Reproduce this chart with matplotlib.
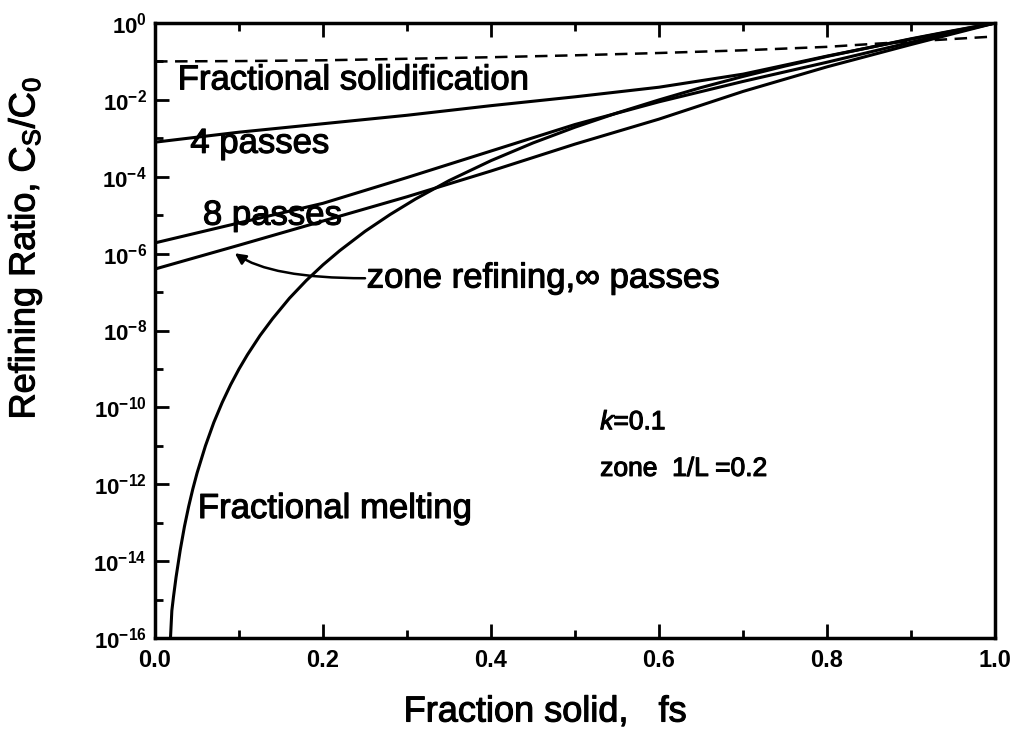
import numpy as np
import matplotlib
matplotlib.use("Agg")
import matplotlib.pyplot as plt
from matplotlib.ticker import NullFormatter
import matplotlib.patheffects as pe

plt.rcParams['font.family'] = ['Liberation Sans', 'DejaVu Sans']
plt.rcParams['mathtext.fontset'] = 'custom'
plt.rcParams['mathtext.rm'] = 'Liberation Sans'
plt.rcParams['mathtext.it'] = 'Liberation Sans:italic'
plt.rcParams['mathtext.bf'] = 'Liberation Sans:bold'

# fraction solid grid for the zone curves
fs = [0.0, 0.1, 0.2, 0.3, 0.4, 0.5, 0.6, 0.7, 0.8, 0.9, 1.0]
# log10(Cs/C0)
single_pass = [-1.00, -0.99, -0.97, -0.93, -0.89, -0.84, -0.78, -0.71, -0.62, -0.48, -0.35]
passes_4 = [-3.10, -2.84, -2.62, -2.40, -2.15, -1.92, -1.67, -1.33, -0.86, -0.42, 0.0]
passes_8 = [-5.72, -5.20, -4.69, -4.02, -3.33, -2.64, -2.05, -1.52, -1.02, -0.50, 0.0]
passes_inf = [-6.40, -5.78, -5.15, -4.52, -3.85, -3.15, -2.50, -1.78, -1.14, -0.56, 0.0]

fs_melt = [0.0185, 0.02, 0.022, 0.025, 0.03, 0.035, 0.04, 0.045, 0.05, 0.06, 0.07,
           0.08, 0.09, 0.1, 0.11, 0.125, 0.14, 0.16, 0.18, 0.2, 0.22, 0.25, 0.28,
           0.31, 0.35, 0.4, 0.45, 0.5, 0.55, 0.6, 0.65, 0.7, 0.75, 0.8, 0.85, 0.9,
           0.95, 1.0]
melting = [-15.95, -15.29, -14.92, -14.42, -13.71, -13.10, -12.58, -12.12, -11.71, -11.00, -10.39,
           -9.87, -9.41, -9.00, -8.63, -8.13, -7.69, -7.16, -6.70, -6.29, -5.92, -5.42, -4.98,
           -4.58, -4.10, -3.58, -3.12, -2.71, -2.34, -2.00, -1.68, -1.39, -1.12, -0.87, -0.64,
           -0.41, -0.20, 0.0]

y_major = [0, -2, -4, -6, -8, -10, -12, -14, -16]
y_minor = [-1, -3, -5, -7, -9, -11, -13, -15]
x_major = [0.0, 0.2, 0.4, 0.6, 0.8, 1.0]
x_minor = [0.1, 0.3, 0.5, 0.7, 0.9]

fig = plt.figure(figsize=(10.18, 7.45), dpi=100)
ax = fig.add_axes([0.1523, 0.1436, 0.8251, 0.8255])

lw = 2.2
ax.plot(fs, 10.0 ** np.array(single_pass), 'k--', lw=1.8, dashes=(5, 3))
ax.plot(fs, 10.0 ** np.array(passes_4), 'k-', lw=lw)
ax.plot(fs, 10.0 ** np.array(passes_8), 'k-', lw=lw)
ax.plot(fs, 10.0 ** np.array(passes_inf), 'k-', lw=lw)
ax.plot(fs_melt, 10.0 ** np.array(melting), 'k-', lw=lw)

ax.set_yscale('log')
ax.set_xlim(0, 1)
ax.set_ylim(1e-16, 1)

ax.set_yticks([10.0 ** v for v in y_major],
              labels=[r'$\mathbf{10^{%d}}$' % v for v in y_major])
ax.set_yticks([10.0 ** v for v in y_minor], minor=True)
ax.yaxis.set_minor_formatter(NullFormatter())
ax.set_xticks(x_major, labels=['%.1f' % v for v in x_major])
ax.set_xticks(x_minor, minor=True)
ax.tick_params(which='both', direction='in', top=True, right=False, width=2)
ax.tick_params(which='major', length=10)
ax.tick_params(which='minor', length=6)
ax.tick_params(axis='y', labelsize=16, pad=6)
ax.tick_params(axis='x', labelsize=17, pad=8)
for lab in ax.get_xticklabels():
    lab.set_fontweight('bold')
for sp in ax.spines.values():
    sp.set_linewidth(2.5)

# slightly heavier strokes for the annotation text
heavy = [pe.withStroke(linewidth=0.8, foreground='k')]

fig.text(25 / 1018, 1 - 248 / 745, r'Refining Ratio, C$_\mathrm{S}$/C$_\mathrm{0}$',
         rotation=90, ha='center', va='center', fontsize=26, path_effects=heavy)
fig.text(545 / 1018, 1 - 712 / 745, 'Fraction solid,   fs',
         ha='center', va='center', fontsize=26, path_effects=heavy)

ax.text(0.027, 10 ** -1.48, 'Fractional solidification', fontsize=25, va='center',
        path_effects=heavy)
ax.text(0.042, 10 ** -3.13, '4 passes', fontsize=25, va='center', path_effects=heavy)
ax.text(0.057, 10 ** -5.0, '8 passes', fontsize=25, va='center', path_effects=heavy)
ax.text(0.252, 10 ** -6.64, r'zone refining,$\infty$ passes', fontsize=25, va='center',
        path_effects=heavy)
ax.text(0.051, 10 ** -12.63, 'Fractional melting', fontsize=25, va='center',
        path_effects=heavy)
ax.text(0.53, 10 ** -10.39, r'$\it{k}$=0.1', fontsize=19, va='center', path_effects=heavy)
ax.text(0.53, 10 ** -11.6, 'zone  1/L =0.2', fontsize=19, va='center', path_effects=heavy)

ax.annotate('', xy=(0.095, 10 ** -5.99), xytext=(0.25, 10 ** -6.64),
            arrowprops=dict(arrowstyle='-|>', color='k', lw=1.8, mutation_scale=16,
                            shrinkA=0, shrinkB=0,
                            connectionstyle='angle3,angleA=0,angleB=-35'))

fig.savefig('out.png', dpi=100)
